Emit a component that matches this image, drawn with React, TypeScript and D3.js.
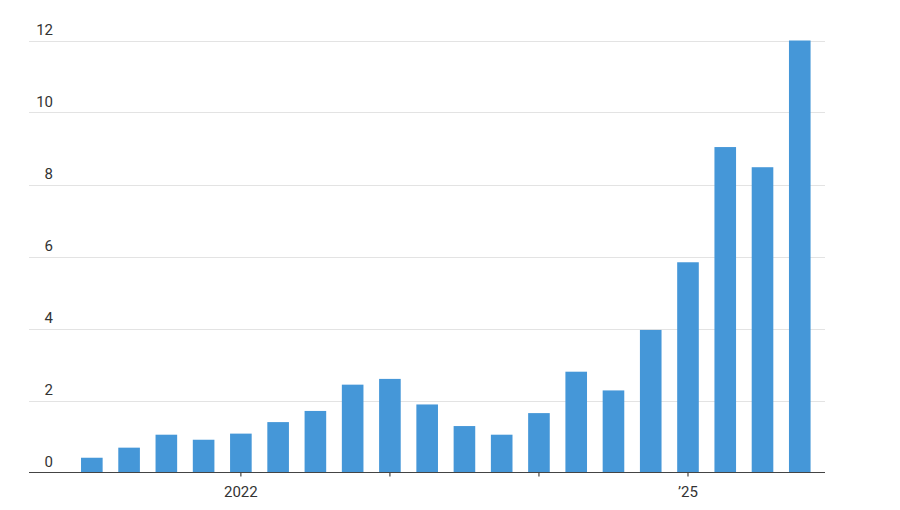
import React from "react";
import * as d3 from "d3";

const quarters: string[] = [
  "2021 Q1", "2021 Q2", "2021 Q3", "2021 Q4",
  "2022 Q1", "2022 Q2", "2022 Q3", "2022 Q4",
  "2023 Q1", "2023 Q2", "2023 Q3", "2023 Q4",
  "2024 Q1", "2024 Q2", "2024 Q3", "2024 Q4",
  "2025 Q1", "2025 Q2", "2025 Q3", "2025 Q4",
];
const values: number[] = [
  0.41, 0.69, 1.05, 0.91, 1.08, 1.4, 1.71, 2.44, 2.6, 1.89,
  1.29, 1.05, 1.65, 2.8, 2.28, 3.96, 5.84, 9.04, 8.48, 12.0,
];
const yTicks: number[] = [0, 2, 4, 6, 8, 10, 12];
const xTickQuarters: string[] = ["2022 Q1", "2023 Q1", "2024 Q1", "2025 Q1"];
const xTickLabels: string[] = ["2022", "", "", "\u201925"];

const W = 900;
const H = 510;
const FONT = "Roboto, 'Noto Sans', sans-serif";

export default function App() {
  const x = d3
    .scaleBand<string>()
    .domain(quarters)
    .range([73.2, 818.4])
    .paddingInner(0.42)
    .paddingOuter(0.21);
  const y = d3.scaleLinear().domain([0, 12]).range([472.5, 40.5]);
  const gridLeft = 29;
  const gridRight = 825;

  return (
    <svg
      width={W}
      height={H}
      style={{ position: "absolute", left: 0, top: 0, background: "#fff" }}
    >
      {yTicks.map((t) =>
        t === 0 ? null : (
          <line
            key={"g" + t}
            x1={gridLeft}
            x2={gridRight}
            y1={Math.round(y(t)) + 0.5}
            y2={Math.round(y(t)) + 0.5}
            stroke="#e3e3e3"
            strokeWidth={1}
          />
        )
      )}
      {yTicks.map((t) => (
        <text
          key={"yl" + t}
          x={53}
          y={y(t) - 6}
          textAnchor="end"
          fontFamily={FONT}
          fontSize={15}
          fill="#333"
        >
          {t}
        </text>
      ))}
      {quarters.map((q, i) => (
        <rect
          key={q}
          x={x(q)}
          y={y(values[i])}
          width={x.bandwidth()}
          height={y(0) - y(values[i])}
          fill="#4597d8"
        />
      ))}
      <line
        x1={gridLeft}
        x2={gridRight}
        y1={y(0)}
        y2={y(0)}
        stroke="#444"
        strokeWidth={1.2}
      />
      {xTickQuarters.map((q, i) => {
        const cx = (x(q) as number) + x.bandwidth() / 2;
        return (
          <g key={"xt" + q}>
            <line
              x1={cx}
              x2={cx}
              y1={y(0)}
              y2={y(0) + 4}
              stroke="#444"
              strokeWidth={1.2}
            />
            {xTickLabels[i] && (
              <text
                x={cx}
                y={497}
                textAnchor="middle"
                fontFamily={FONT}
                fontSize={15}
                fill="#333"
              >
                {xTickLabels[i]}
              </text>
            )}
          </g>
        );
      })}
    </svg>
  );
}
